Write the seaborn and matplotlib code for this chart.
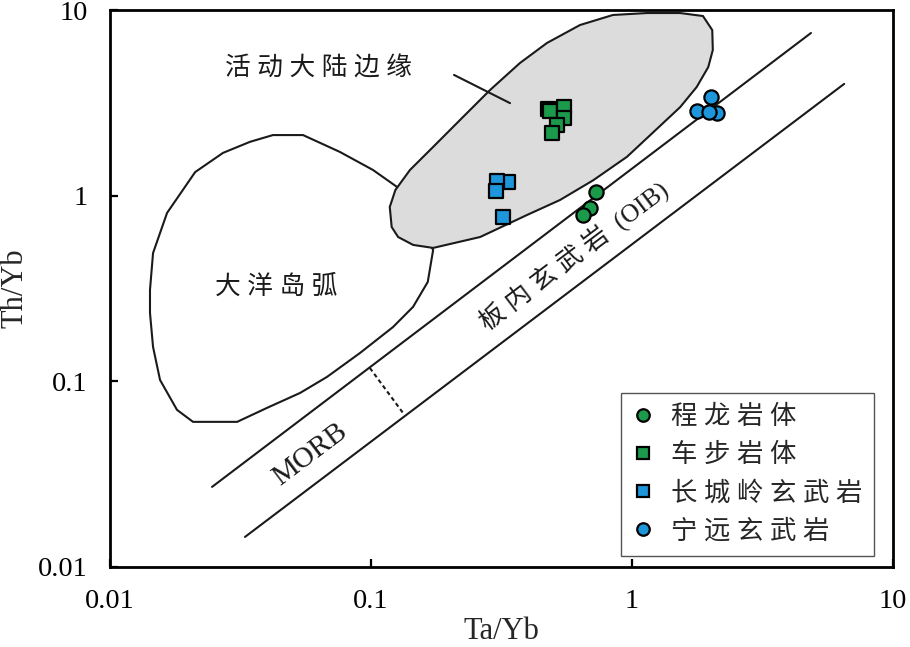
import numpy as np
import pandas as pd
import matplotlib
matplotlib.use("Agg")
import matplotlib.pyplot as plt
import seaborn as sns
from matplotlib.lines import Line2D
from matplotlib.patches import Polygon

# ---------------- data ----------------
groups = ["程龙岩体", "车步岩体", "长城岭玄武岩", "宁远玄武岩"]
group_markers = {"程龙岩体": "o", "车步岩体": "s", "长城岭玄武岩": "s", "宁远玄武岩": "o"}
group_colors = {"程龙岩体": "#1b9a4b", "车步岩体": "#1b9a4b",
                "长城岭玄武岩": "#1e96dc", "宁远玄武岩": "#1e96dc"}

chenglong_ta = [0.73, 0.69, 0.65]
chenglong_th = [1.05, 0.86, 0.79]
chebu_ta = [0.475, 0.485, 0.548, 0.548, 0.516, 0.494]
chebu_th = [2.92, 2.86, 3.00, 2.62, 2.40, 2.18]
changchengling_ta = [0.335, 0.304, 0.30, 0.32]
changchengling_th = [1.19, 1.20, 1.06, 0.77]
ningyuan_ta = [2.12, 2.00, 1.77, 1.97]
ningyuan_th = [2.79, 3.40, 2.86, 2.82]

# field boundaries (Ta/Yb, Th/Yb)
acm_ta = [0.118, 0.124, 0.141, 0.173, 0.225, 0.286, 0.372, 0.472, 0.632, 0.845,
          1.14, 1.53, 1.87, 2.03, 2.04, 1.96, 1.77, 1.53, 1.20, 0.957,
          0.71, 0.53, 0.396, 0.262, 0.173, 0.145, 0.127, 0.120]
acm_th = [0.869, 1.073, 1.375, 1.83, 2.65, 3.71, 5.18, 6.64, 8.30, 9.40,
          9.63, 9.63, 9.28, 7.80, 6.09, 4.93, 3.85, 3.00, 2.18, 1.62,
          1.21, 0.948, 0.787, 0.599, 0.523, 0.543, 0.599, 0.678]

arc_ta = [0.129, 0.1018, 0.076, 0.0549, 0.0421, 0.0344, 0.0271, 0.0212, 0.01654,
          0.01462, 0.01423, 0.01423, 0.01462, 0.01555, 0.01806, 0.0208, 0.0307,
          0.040, 0.0535, 0.0678, 0.0908, 0.1214, 0.145, 0.165, 0.173, 0.129]
arc_th = [1.087, 1.375, 1.72, 2.12, 2.12, 1.95, 1.70, 1.34, 0.807,
          0.491, 0.311, 0.2335, 0.1532, 0.1017, 0.0702, 0.0605, 0.0605,
          0.072, 0.0866, 0.1056, 0.1422, 0.196, 0.252, 0.343, 0.51, 1.087]

upper_line_ta = [0.0246, 4.85]
upper_line_th = [0.027, 7.52]
lower_line_ta = [0.0329, 6.5]
lower_line_th = [0.01452, 4.0]
morb_split_ta = [0.099, 0.1326]
morb_split_th = [0.118, 0.0676]
pointer_ta = [0.208, 0.341]
pointer_th = [4.47, 3.15]

# ---------------- figure ----------------
sns.set_theme(style="white")
plt.rcParams["font.family"] = ["Liberation Serif", "Noto Sans CJK SC", "DejaVu Sans"]

fig = plt.figure(figsize=(9.10, 6.47), dpi=100)
ax = fig.add_axes([110 / 910, 1 - 567 / 647, 783 / 910, 557 / 647])
ax.set_xscale("log")
ax.set_yscale("log")
ax.set_xlim(0.01, 10)
ax.set_ylim(0.01, 10)

lw = 1.5
ax.add_patch(Polygon(np.column_stack([arc_ta, arc_th]), closed=True,
                     facecolor="none", edgecolor="#1a1a1a", lw=lw, zorder=1))
ax.add_patch(Polygon(np.column_stack([acm_ta, acm_th]), closed=True,
                     facecolor="#dcdcdc", edgecolor="#1a1a1a", lw=lw, zorder=1.5))
ax.plot(upper_line_ta, upper_line_th, color="#1a1a1a", lw=lw, zorder=2)
ax.plot(lower_line_ta, lower_line_th, color="#1a1a1a", lw=lw, zorder=2)
ax.plot(morb_split_ta, morb_split_th, color="#1a1a1a", lw=lw, ls=(0, (2, 1.5)), zorder=2)
ax.plot(pointer_ta, pointer_th, color="#1a1a1a", lw=lw, zorder=2)

df = pd.concat([
    pd.DataFrame({"Ta/Yb": chenglong_ta, "Th/Yb": chenglong_th, "group": groups[0]}),
    pd.DataFrame({"Ta/Yb": chebu_ta, "Th/Yb": chebu_th, "group": groups[1]}),
    pd.DataFrame({"Ta/Yb": changchengling_ta, "Th/Yb": changchengling_th, "group": groups[2]}),
    pd.DataFrame({"Ta/Yb": ningyuan_ta, "Th/Yb": ningyuan_th, "group": groups[3]}),
], ignore_index=True)

for g in groups:
    sub = df[df["group"] == g]
    sns.scatterplot(data=sub, x="Ta/Yb", y="Th/Yb", ax=ax, color=group_colors[g],
                    marker=group_markers[g], s=105 if group_markers[g] == "o" else 90,
                    edgecolor="black", linewidth=1.6, zorder=3, legend=False)

def spaced(t):
    return " ".join(t)

cjk_size = 18.5
ax.text(0.0627, 4.87, spaced("活动大陆边缘"), fontsize=cjk_size, ha="center", va="center", color="#1a1a1a")
ax.text(0.0433, 0.322, spaced("大洋岛弧"), fontsize=cjk_size, ha="center", va="center", color="#1a1a1a")
ax.text(0.60, 0.47, spaced("板内玄武岩") + "  (OIB)", fontsize=cjk_size, ha="center", va="center",
        rotation=37, rotation_mode="anchor", color="#1a1a1a")
ax.text(0.0583, 0.0402, "MORB", fontsize=21, ha="center", va="center",
        rotation=37, rotation_mode="anchor", color="#1a1a1a")

# legend
handles = [Line2D([], [], ls="none", marker=group_markers[g], markersize=9 if group_markers[g] == "o" else 8,
                  markerfacecolor=group_colors[g], markeredgecolor="black", markeredgewidth=1.6)
           for g in groups]
leg = ax.legend(handles, [spaced(g) for g in groups], loc="upper right",
                bbox_to_anchor=((874 - 110) / 783, (567 - 393) / 557),
                fontsize=19, frameon=True, fancybox=False, framealpha=1,
                edgecolor="#555555", borderpad=0.45, labelspacing=0.52,
                handletextpad=0.65, handlelength=0.8, borderaxespad=0)
leg.get_frame().set_linewidth(1.0)

# axes styling
ax.set_xticks([0.01, 0.1, 1, 10])
ax.set_xticklabels(["0.01", "0.1", "1", "10"])
ax.set_yticks([0.01, 0.1, 1, 10])
ax.set_yticklabels(["0.01", "0.1", "1", "10"])
ax.minorticks_off()
ax.tick_params(axis="both", which="major", direction="in", length=6, width=1.6,
               labelsize=20.5, pad=16, colors="black", bottom=True, left=True,
               top=False, right=False)
for sp in ax.spines.values():
    sp.set_visible(True)
    sp.set_color("black")
    sp.set_linewidth(2.0)
ax.grid(False)
ax.set_xlabel("Ta/Yb", fontsize=22, labelpad=2)
ax.set_ylabel("Th/Yb", fontsize=22, labelpad=6)

fig.savefig("out.png", dpi=100, facecolor="white")
